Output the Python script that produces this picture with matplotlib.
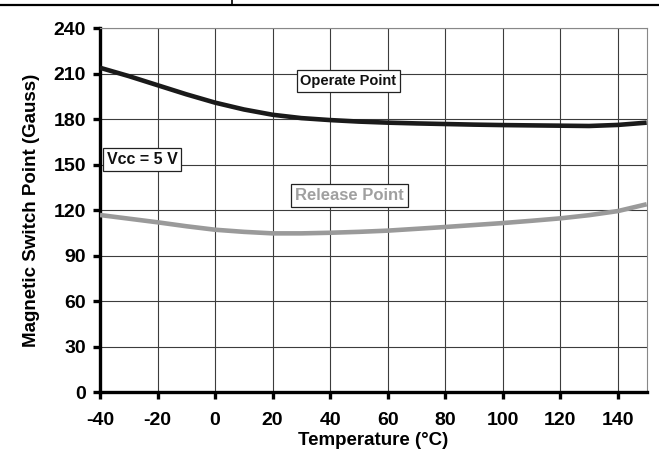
import numpy as np
import matplotlib
matplotlib.use("Agg")
import matplotlib.pyplot as plt
from matplotlib.lines import Line2D

# --- Style settings ---
plt.rcParams.update({
    "font.family": "sans-serif",
    "font.sans-serif": ["Liberation Sans", "DejaVu Sans"],
    "font.weight": "bold",
    "axes.unicode_minus": False,
})

# --- Data ---
temps = [-40, -30, -20, -10, 0, 10, 20, 30, 40, 50, 60, 70, 80, 90, 100, 110, 120, 130, 140, 150]
operate = [214, 208.5, 202.5, 196.5, 191, 186.5, 183, 180.8, 179.5, 178.5, 177.8, 177.3,
           176.9, 176.5, 176.2, 176.0, 175.8, 175.6, 176.3, 177.8]
release = [116.9, 114.5, 112.1, 109.5, 107.2, 105.8, 104.8, 104.8, 105.2, 105.8, 106.6, 107.8,
           109.0, 110.3, 111.6, 113.1, 114.7, 116.8, 119.5, 124.0]

xticks = [-40, -20, 0, 20, 40, 60, 80, 100, 120, 140]
yticks = [0, 30, 60, 90, 120, 150, 180, 210, 240]

fig = plt.figure(figsize=(6.59, 4.59), dpi=100)
ax = fig.add_axes([0.1517, 0.1453, 0.9813 - 0.1517, 0.9383 - 0.1453])

ax.plot(temps, operate, color="#1a1a1a", lw=3.3, solid_capstyle="butt", zorder=3)
ax.plot(temps, release, color="#9a9a9a", lw=3.3, solid_capstyle="butt", zorder=3)

ax.set_xlim(-40, 150)
ax.set_ylim(0, 240)
ax.set_xticks(xticks)
ax.set_yticks(yticks)
ax.grid(True, color="#3c3c3c", lw=0.8)
ax.set_axisbelow(True)

for side in ["top", "right"]:
    ax.spines[side].set_color("#888888")
    ax.spines[side].set_linewidth(0.8)
for side in ["left", "bottom"]:
    ax.spines[side].set_color("black")
    ax.spines[side].set_linewidth(2.4)

ax.tick_params(axis="both", direction="out", length=5, width=2.4, color="black",
               labelsize=14)
ax.tick_params(axis="x", pad=9)
ax.tick_params(axis="y", pad=5)
for lab in ax.get_xticklabels() + ax.get_yticklabels():
    lab.set_fontweight("bold")

ax.set_xlabel("Temperature (°C)", fontsize=13.5, fontweight="bold", labelpad=2)
ax.set_ylabel("Magnetic Switch Point (Gauss)", fontsize=13.5, fontweight="bold", labelpad=10)

box = dict(boxstyle="square,pad=0.25", fc="white", ec="#222222", lw=0.9)
ax.text(46.3, 205.3, "Operate Point", fontsize=10.5, fontweight="bold", color="#111111",
        ha="center", va="center", bbox=box, zorder=4)
ax.text(46.7, 129.6, "Release Point", fontsize=12, fontweight="bold", color="#a0a0a0",
        ha="center", va="center", bbox=box, zorder=4)
ax.text(-25.4, 153.8, "Vcc = 5 V", fontsize=11.5, fontweight="bold", color="#111111",
        ha="center", va="center", bbox=box, zorder=4)

# --- leftover table border at the very top ---
fig.add_artist(Line2D([0, 1], [1 - 5 / 459, 1 - 5 / 459], color="black", lw=1.6,
                      transform=fig.transFigure))
fig.add_artist(Line2D([231.5 / 659, 231.5 / 659], [1, 1 - 5 / 459], color="black", lw=1.2,
                      transform=fig.transFigure))

plt.savefig("out.png", dpi=100)
